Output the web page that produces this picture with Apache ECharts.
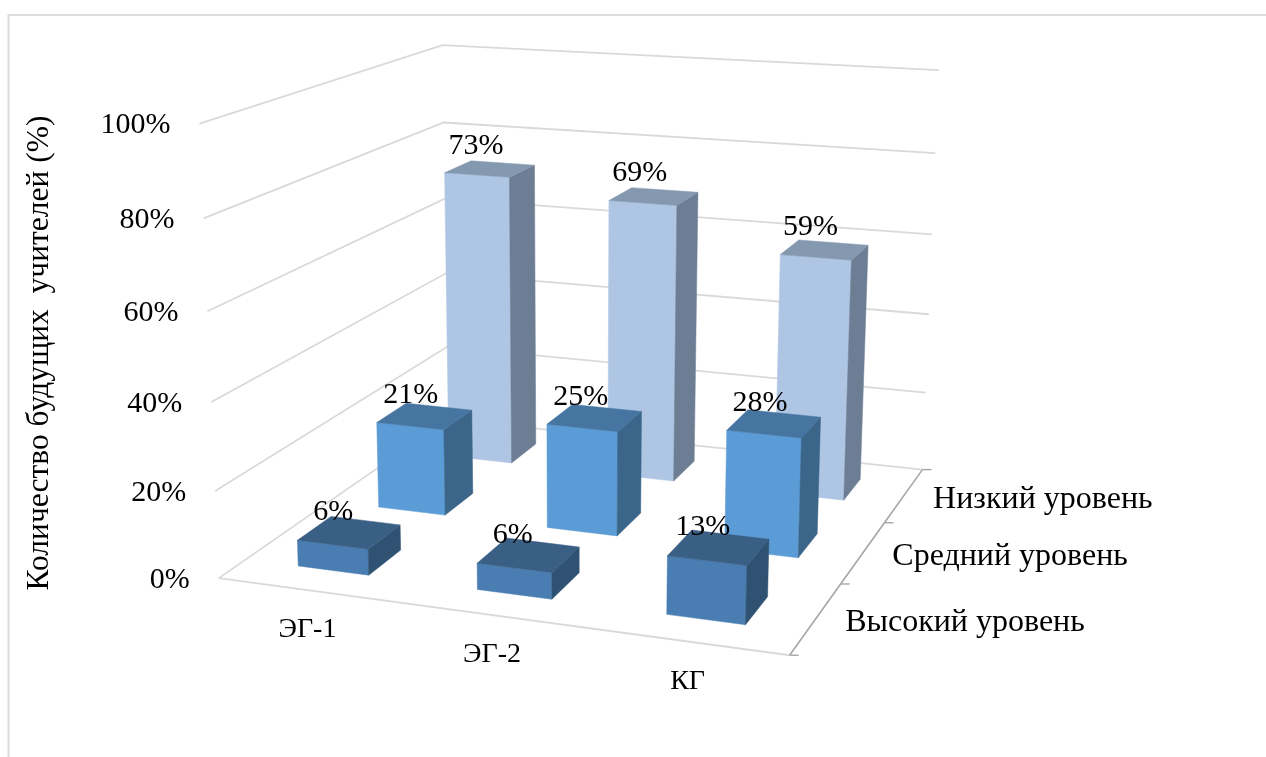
<!DOCTYPE html>
<html>
<head>
<meta charset="utf-8">
<style>html,body{margin:0;padding:0;background:#fff}#chart{width:1266px;height:757px}</style>
<script src="https://cdn.jsdelivr.net/npm/echarts@6/dist/echarts.min.js"></script>
</head>
<body>
<div id="chart"></div>
<script>
// Уровни подготовленности будущих учителей по группам
const categories = ['ЭГ-1', 'ЭГ-2', 'КГ'];
const levels = ['Высокий уровень', 'Средний уровень', 'Низкий уровень'];
const highLevel = [6, 6, 13];
const middleLevel = [21, 25, 28];
const lowLevel = [73, 69, 59];
const valueTicks = [0, 20, 40, 60, 80, 100];
const axisTitle = 'Количество будущих  учителей (%)';

const FONT = '"Liberation Serif", "Times New Roman", serif';
const GRID = { left: 100, top: 100, width: 600, height: 400 };

// Box faces and value label lift per depth row
const rowColors = [
  { front: '#4a7eb2', top: '#3a5f85', side: '#2f5272', labelDx: -16, labelDy: -20 },
  { front: '#5b9bd6', top: '#4675a1', side: '#3b6589', labelDx: -14, labelDy: -21 },
  { front: '#aec6e4', top: '#8499b0', side: '#6d7d94', labelDx: -14, labelDy: -23 }
];

// Camera calibration: box corners (x, depth, value in 0..1) and where they land on the page
const cameraAnchors = [
  [0, 0, 0, 218, 578], [1, 0, 0, 790, 655], [1, 1, 0, 922, 470], [0, 1, 0, 449, 419],
  [0, 0, 1, 200, 124], [0, 1, 1, 442, 45], [1, 1, 1, 939, 70]
];

function solveCamera(anchors) {
  const rows = [], rhs = [];
  anchors.forEach(([x, d, v, sx, sy]) => {
    const px = sx / 1000, py = sy / 1000;
    rows.push([x, d, v, 1, 0, 0, 0, 0, -px * x, -px * d, -px * v]); rhs.push(px);
    rows.push([0, 0, 0, 0, x, d, v, 1, -py * x, -py * d, -py * v]); rhs.push(py);
  });
  const n = 11;
  const m = [];
  for (let i = 0; i < n; i++) {
    m[i] = [];
    for (let j = 0; j < n; j++) m[i][j] = rows.reduce((s, r) => s + r[i] * r[j], 0);
    m[i][n] = rows.reduce((s, r, k) => s + r[i] * rhs[k], 0);
  }
  for (let c = 0; c < n; c++) {
    let p = c;
    for (let r = c + 1; r < n; r++) if (Math.abs(m[r][c]) > Math.abs(m[p][c])) p = r;
    [m[c], m[p]] = [m[p], m[c]];
    for (let r = 0; r < n; r++) {
      if (r === c) continue;
      const f = m[r][c] / m[c][c];
      for (let j = c; j <= n; j++) m[r][j] -= f * m[c][j];
    }
  }
  return m.map((row, i) => row[n] / row[i]);
}
const cam = solveCamera(cameraAnchors);

function project(x, d, v) {
  const w = cam[8] * x + cam[9] * d + cam[10] * v + 1;
  return [
    1000 * (cam[0] * x + cam[1] * d + cam[2] * v + cam[3]) / w,
    1000 * (cam[4] * x + cam[5] * d + cam[6] * v + cam[7]) / w
  ];
}

// Plot plane of the hidden grid -> normalised x (0..1) and value (0..1)
function toUnit(pt) {
  return [(pt[0] - GRID.left) / GRID.width, (GRID.top + GRID.height - pt[1]) / GRID.height];
}

function label(text, p, opts) {
  return {
    type: 'text',
    silent: true,
    style: Object.assign({
      text, x: p[0], y: p[1], fontFamily: FONT, fontSize: 30, fill: '#000',
      align: 'center', verticalAlign: 'middle'
    }, opts || {})
  };
}

function poly(points, fill) {
  return { type: 'polygon', shape: { points }, style: { fill, stroke: fill, lineWidth: 0.5 } };
}

function line(points, stroke, lineWidth) {
  return { type: 'polyline', shape: { points }, style: { fill: 'none', stroke, lineWidth } };
}

// Walls: one bent gridline per value tick, with its percent label
function renderWallTick(params, api) {
  const tick = api.value(1);
  const v = toUnit(api.coord([0, tick]))[1];
  const a = project(0, 0, v), b = project(0, 1, v), c = project(1, 1, v);
  return {
    type: 'group',
    children: [
      line([a, b, c], '#d9d9d9', 1.8),
      label(tick + '%', [a[0] - 29, a[1] + 2], { align: 'right' })
    ]
  };
}

const BAR_MARGIN_X = 0.3, BAR_MARGIN_D = 0.3;

function boxRenderer(rowIndex) {
  const colors = rowColors[rowIndex];
  return function (params, api) {
    const value = api.value(1);
    const top = toUnit(api.coord([api.value(0), value]));
    const bottom = toUnit(api.coord([api.value(0), 0]));
    const band = api.size([1, 0])[0] / GRID.width;
    const half = band * (0.5 - BAR_MARGIN_X);
    const x0 = top[0] - half, x1 = top[0] + half;
    const d0 = (rowIndex + BAR_MARGIN_D) / levels.length;
    const d1 = (rowIndex + 1 - BAR_MARGIN_D) / levels.length;
    const v0 = bottom[1], v1 = top[1];
    const ft0 = project(x0, d0, v1), ft1 = project(x1, d0, v1);
    const bt0 = project(x0, d1, v1), bt1 = project(x1, d1, v1);
    const fb0 = project(x0, d0, v0), fb1 = project(x1, d0, v0), bb1 = project(x1, d1, v0);
    const mid = project(top[0], (d0 + d1) / 2, v1);
    return {
      type: 'group',
      children: [
        poly([ft0, ft1, fb1, fb0], colors.front),
        poly([ft1, bt1, bb1, fb1], colors.side),
        poly([ft0, bt0, bt1, ft1], colors.top),
        label(value + '%', [mid[0] + colors.labelDx, mid[1] + colors.labelDy])
      ]
    };
  };
}

// Front edge captions for the groups
function renderCategory(params, api) {
  const u = toUnit(api.coord([api.value(0), 0]));
  const p = project(u[0], 0, 0);
  return label(categories[api.value(0)], [p[0], p[1] + 40], { fontSize: 28 });
}

// Depth axis: right floor edge with ticks and level captions
function renderDepthAxis(params, api) {
  const i = api.value(0);
  const n = levels.length;
  const p0 = project(1, i / n, 0), p1 = project(1, (i + 1) / n, 0), pm = project(1, (i + 0.5) / n, 0);
  const children = [
    line([p0, p1], '#a6a6a6', 1.6),
    line([p1, [p1[0] + 9, p1[1]]], '#a6a6a6', 1.4),
    label(levels[i], [pm[0] + 29, pm[1] + 4], { align: 'left', fontSize: 32 })
  ];
  if (i === 0) children.push(line([p0, [p0[0] + 9, p0[1]]], '#a6a6a6', 1.4));
  return { type: 'group', children };
}

// Floor edge along the front of the box
function renderFrontEdge(params, api) {
  return line([project(0, 0, 0), project(1, 0, 0)], '#d9d9d9', 1.8);
}

function customSeries(renderItem, data, z) {
  return {
    type: 'custom', coordinateSystem: 'cartesian2d', renderItem, data, z,
    clip: false, silent: true, animation: false
  };
}

const rows = [highLevel, middleLevel, lowLevel];

const chart = echarts.init(document.getElementById('chart'), null, { renderer: 'canvas' });
chart.setOption({
  backgroundColor: '#fff',
  animation: false,
  grid: Object.assign({ show: false }, GRID),
  xAxis: { type: 'category', data: categories, show: false, boundaryGap: true },
  yAxis: { type: 'value', min: 0, max: 100, show: false },
  graphic: [
    { type: 'polyline', shape: { points: [[8.5, 757], [8.5, 15], [1266, 15]] },
      style: { fill: 'none', stroke: '#dcdcdc', lineWidth: 2 } },
    { type: 'text', x: 40, y: 353, rotation: Math.PI / 2,
      style: { text: axisTitle, fontFamily: FONT, fontSize: 31.5, fill: '#000', align: 'center', verticalAlign: 'middle' } }
  ],
  series: [
    customSeries(renderWallTick, valueTicks.map(t => [0, t]), 1),
    customSeries(renderFrontEdge, [[0, 0]], 1),
    customSeries(renderDepthAxis, levels.map((_, i) => [i, 0]), 1),
    customSeries(renderCategory, categories.map((_, i) => [i, 0]), 1),
    // Back row first so the nearer boxes cover it
    customSeries(boxRenderer(2), rows[2].map((v, i) => [i, v]), 2),
    customSeries(boxRenderer(1), rows[1].map((v, i) => [i, v]), 3),
    customSeries(boxRenderer(0), rows[0].map((v, i) => [i, v]), 4)
  ]
});
</script>
</body>
</html>
